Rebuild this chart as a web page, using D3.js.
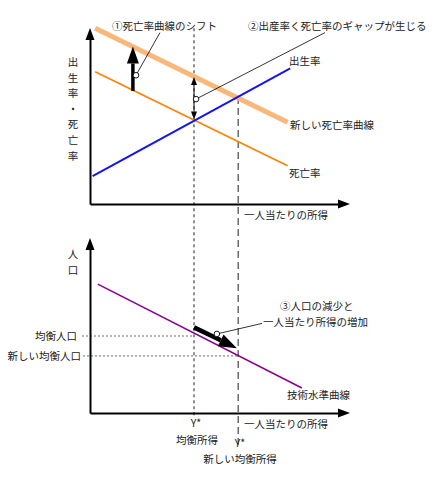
<!DOCTYPE html>
<html>
<head>
<meta charset="utf-8">
<script src="https://cdn.jsdelivr.net/npm/d3@7"></script>
<style>
  body { margin: 0; background: #fff; }
  text { font-family: "Noto Sans CJK JP", sans-serif; font-size: 10.5px; fill: #222; }
</style>
</head>
<body>
<svg id="chart" width="444" height="479"></svg>
<script>
// ---------------------------------------------------------------------------
// Data (income 0-100 on the shared x axis, rates / population 0-100)
// ---------------------------------------------------------------------------
const incomeEq  = 40;   // Y* 均衡所得
const incomeNew = 57;   // Y* 新しい均衡所得

const birthRate    = [[1, 16], [77, 78]];
const deathRate    = [[2, 76], [76, 22]];
const newDeathRate = [[2, 101], [76, 47]];
const techLevel    = [[3, 74.5], [81.5, 14.5]];

const popEq  = 44.5;    // 均衡人口
const popNew = 33;      // 新しい均衡人口

// annotation arrows: [from, to]
const shiftArrow = [[16.5, 65], [16.5, 90.5]];
const gapArrow   = [[40, 48.5], [40, 73]];
const moveArrow  = [[40, 49.5], [56.5, 37.5]];

// callouts: circle position and end of the leader line
const callouts = [
  { panel: "top", at: [17.7, 74], to: [26.9, 98.5] },
  { panel: "top", at: [40.8, 60.3], to: [90.4, 98.5] },
  { panel: "bot", at: [48.8, 45.7], to: [66.2, 51.8] },
];

// ---------------------------------------------------------------------------
// Scales
// ---------------------------------------------------------------------------
const svg  = d3.select("#chart");
const x    = d3.scaleLinear().domain([0, 100]).range([90, 350]);
const yTop = d3.scaleLinear().domain([0, 100]).range([204, 30]);
const yBot = d3.scaleLinear().domain([0, 100]).range([413, 240]);

// Filled triangular head; returns the base point so the shaft can stop there.
function head(g, tip, from, len, wid) {
  const dx = tip[0] - from[0], dy = tip[1] - from[1], d = Math.hypot(dx, dy);
  const ux = dx / d, uy = dy / d;
  const bx = tip[0] - ux * len, by = tip[1] - uy * len;
  g.append("path")
    .attr("d", `M${tip[0]},${tip[1]}L${bx - uy * wid / 2},${by + ux * wid / 2}` +
               `L${bx + uy * wid / 2},${by - ux * wid / 2}Z`)
    .attr("fill", "#000");
  return [bx, by];
}

function arrow(g, p0, p1, len, wid, sw, both) {
  const b1 = head(g, p1, p0, len, wid);
  const b0 = both ? head(g, p0, p1, len, wid) : p0;
  g.append("line")
    .attr("x1", b0[0]).attr("y1", b0[1]).attr("x2", b1[0]).attr("y2", b1[1])
    .attr("stroke", "#000").attr("stroke-width", sw);
}

function axes(y) {
  const g = svg.append("g");
  g.append("g")
    .attr("transform", `translate(0,${y(0)})`)
    .call(d3.axisBottom(x.copy().range([x(0), x(100) - 11])).tickValues([]).tickSizeOuter(0));
  g.append("g")
    .attr("transform", `translate(${x(0)},0)`)
    .call(d3.axisLeft(y.copy().range([y(0), y(100) + 9])).tickValues([]).tickSizeOuter(0));
  g.selectAll(".domain").attr("stroke", "#000").attr("stroke-width", 2);
  head(g, [x(100), y(0)], [x(0), y(0)], 12, 9);
  head(g, [x(0), y(100) - 2], [x(0), y(0)], 12, 9);
}

// ---------------------------------------------------------------------------
// Guide lines (drawn first, under the curves)
// ---------------------------------------------------------------------------
svg.append("line")
  .attr("x1", x(incomeEq)).attr("x2", x(incomeEq))
  .attr("y1", yTop(101)).attr("y2", yBot(-3))
  .attr("stroke", "#555").attr("stroke-width", 1.3).attr("stroke-dasharray", "3,3");
svg.append("line")
  .attr("x1", x(incomeNew)).attr("x2", x(incomeNew))
  .attr("y1", yTop(61.5)).attr("y2", yBot(-20))
  .attr("stroke", "#555").attr("stroke-width", 1.3).attr("stroke-dasharray", "7,4");

[[popEq, incomeEq, 82], [popNew, incomeNew, 83]].forEach(([p, inc, x0]) => {
  svg.append("line")
    .attr("x1", x0).attr("x2", x(inc))
    .attr("y1", yBot(p)).attr("y2", yBot(p))
    .attr("stroke", "#444").attr("stroke-width", 0.8).attr("stroke-dasharray", "2,2");
});

axes(yTop);
axes(yBot);

// ---------------------------------------------------------------------------
// Curves
// ---------------------------------------------------------------------------
const lineTop = d3.line().x(d => x(d[0])).y(d => yTop(d[1]));
const lineBot = d3.line().x(d => x(d[0])).y(d => yBot(d[1]));

svg.append("path").attr("d", lineTop(newDeathRate))
  .attr("fill", "none").attr("stroke", "#f8b87c").attr("stroke-width", 5);
svg.append("path").attr("d", lineTop(deathRate))
  .attr("fill", "none").attr("stroke", "#ff8000").attr("stroke-width", 1.6);
svg.append("path").attr("d", lineTop(birthRate))
  .attr("fill", "none").attr("stroke", "#1414f0").attr("stroke-width", 2);
svg.append("path").attr("d", lineBot(techLevel))
  .attr("fill", "none").attr("stroke", "#8c008c").attr("stroke-width", 1.6);

// ---------------------------------------------------------------------------
// Arrows and callouts
// ---------------------------------------------------------------------------
const ann = svg.append("g");
arrow(ann, [x(shiftArrow[0][0]), yTop(shiftArrow[0][1])],
           [x(shiftArrow[1][0]), yTop(shiftArrow[1][1])], 17, 12, 3.5, false);
arrow(ann, [x(gapArrow[0][0]), yTop(gapArrow[0][1])],
           [x(gapArrow[1][0]), yTop(gapArrow[1][1])], 8, 6, 1, true);
arrow(ann, [x(moveArrow[0][0]), yBot(moveArrow[0][1])],
           [x(moveArrow[1][0]), yBot(moveArrow[1][1])], 18, 13, 4.5, false);

callouts.forEach(c => {
  const y = c.panel === "top" ? yTop : yBot;
  ann.append("line")
    .attr("x1", x(c.at[0])).attr("y1", y(c.at[1]))
    .attr("x2", x(c.to[0])).attr("y2", y(c.to[1]))
    .attr("stroke", "#000").attr("stroke-width", 0.8);
  ann.append("circle")
    .attr("cx", x(c.at[0])).attr("cy", y(c.at[1])).attr("r", 2.8)
    .attr("fill", "#fff").attr("stroke", "#000").attr("stroke-width", 0.9);
});

// ---------------------------------------------------------------------------
// Text
// ---------------------------------------------------------------------------
const labels = [
  ["①死亡率曲線のシフト", 112, 30, "start"],
  ["②出産率く死亡率のギャップが生じる", 248, 30, "start"],
  ["出生率", 289, 65, "start"],
  ["新しい死亡率曲線", 290, 129, "start"],
  ["死亡率", 289, 177, "start"],
  ["一人当たりの所得", 244, 219, "start"],
  ["③人口の減少と", 280, 310, "start"],
  ["一人当たり所得の増加", 263, 326, "start"],
  ["均衡人口", 77, 340, "end"],
  ["新しい均衡人口", 81, 360, "end"],
  ["技術水準曲線", 287, 399, "start"],
  ["一人当たりの所得", 244, 428, "start"],
  ["Y*", 196, 427, "middle"],
  ["均衡所得", 197, 444, "middle"],
  ["Y*", 240, 447, "middle"],
  ["新しい均衡所得", 240, 463, "middle"],
];
svg.selectAll(".lbl").data(labels).join("text")
  .attr("class", "lbl")
  .attr("x", d => d[1]).attr("y", d => d[2])
  .attr("text-anchor", d => d[3])
  .text(d => d[0]);

// vertical axis titles, one glyph per row
const topTitle = ["出", "生", "率", "・", "死", "亡", "率"];
svg.selectAll(".vt").data(topTitle).join("text")
  .attr("class", "vt")
  .attr("x", 73).attr("y", (d, i) => 66 + i * 15.6)
  .attr("text-anchor", "middle")
  .text(d => d);
const botTitle = ["人", "口"];
svg.selectAll(".vb").data(botTitle).join("text")
  .attr("class", "vb")
  .attr("x", 73).attr("y", (d, i) => 258 + i * 16)
  .attr("text-anchor", "middle")
  .text(d => d);
</script>
</body>
</html>
